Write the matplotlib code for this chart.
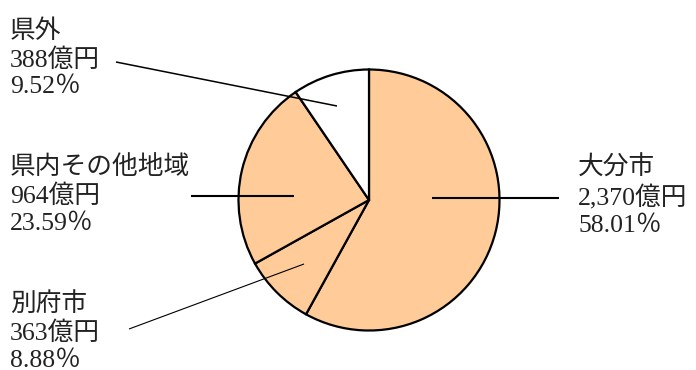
# -*- coding: utf-8 -*-
"""
Pie chart: breakdown by area (億円)
"""
import matplotlib
matplotlib.use("Agg")
import matplotlib.pyplot as plt

# ============================  Data  ====================================
names   = ['大分市', '別府市', '県内その他地域', '県外']
amounts = [2370, 363, 964, 388]
amount_labels = ['2,370億円', '363億円', '964億円', '388億円']
shares  = ['58.01％', '8.88％', '23.59％', '9.52％']
colors  = ['#FFCC99', '#FFCC99', '#FFCC99', '#FFFFFF']

# label layout in pixel coords: (text x, text y of middle line, line start, line end, lw)
layout = {
    '大分市':         dict(xy=(578, 196), ha='left',  p0=(559, 198), p1=(432, 198), lw=1.5),
    '別府市':         dict(xy=(10, 332),  ha='left',  p0=(129, 329), p1=(304, 264), lw=0.8),
    '県内その他地域': dict(xy=(10, 195),  ha='left',  p0=(191, 196), p1=(294, 196), lw=1.5),
    '県外':           dict(xy=(10, 59),   ha='left',  p0=(116, 62),  p1=(337, 106), lw=1.1),
}

fonts = ['Liberation Serif', 'Noto Sans CJK JP', 'DejaVu Sans']

# ============================  Plot  ====================================
fig = plt.figure(figsize=(6.96, 3.70), dpi=100)
ax = fig.add_axes([0, 0, 1, 1])

# y axis is inverted below, so start at -90 and go "counterclock" = visually clockwise from top
ax.pie(amounts, colors=colors, startangle=-90, counterclock=True,
       center=(369, 200), radius=130.5,
       wedgeprops=dict(edgecolor='black', linewidth=1.6))

ax.set_xlim(0, 696)
ax.set_ylim(370, 0)
ax.set_aspect('equal')
ax.axis('off')

for name, amt, sh in zip(names, amount_labels, shares):
    lo = layout[name]
    ax.plot([lo['p0'][0], lo['p1'][0]], [lo['p0'][1], lo['p1'][1]],
            color='black', lw=lo['lw'], solid_capstyle='butt')
    ax.text(lo['xy'][0], lo['xy'][1], f'{name}\n{amt}\n{sh}',
            ha=lo['ha'], va='center', fontsize=18.5, family=fonts,
            linespacing=1.27, color='#222222')

fig.savefig('out.png', dpi=100)
